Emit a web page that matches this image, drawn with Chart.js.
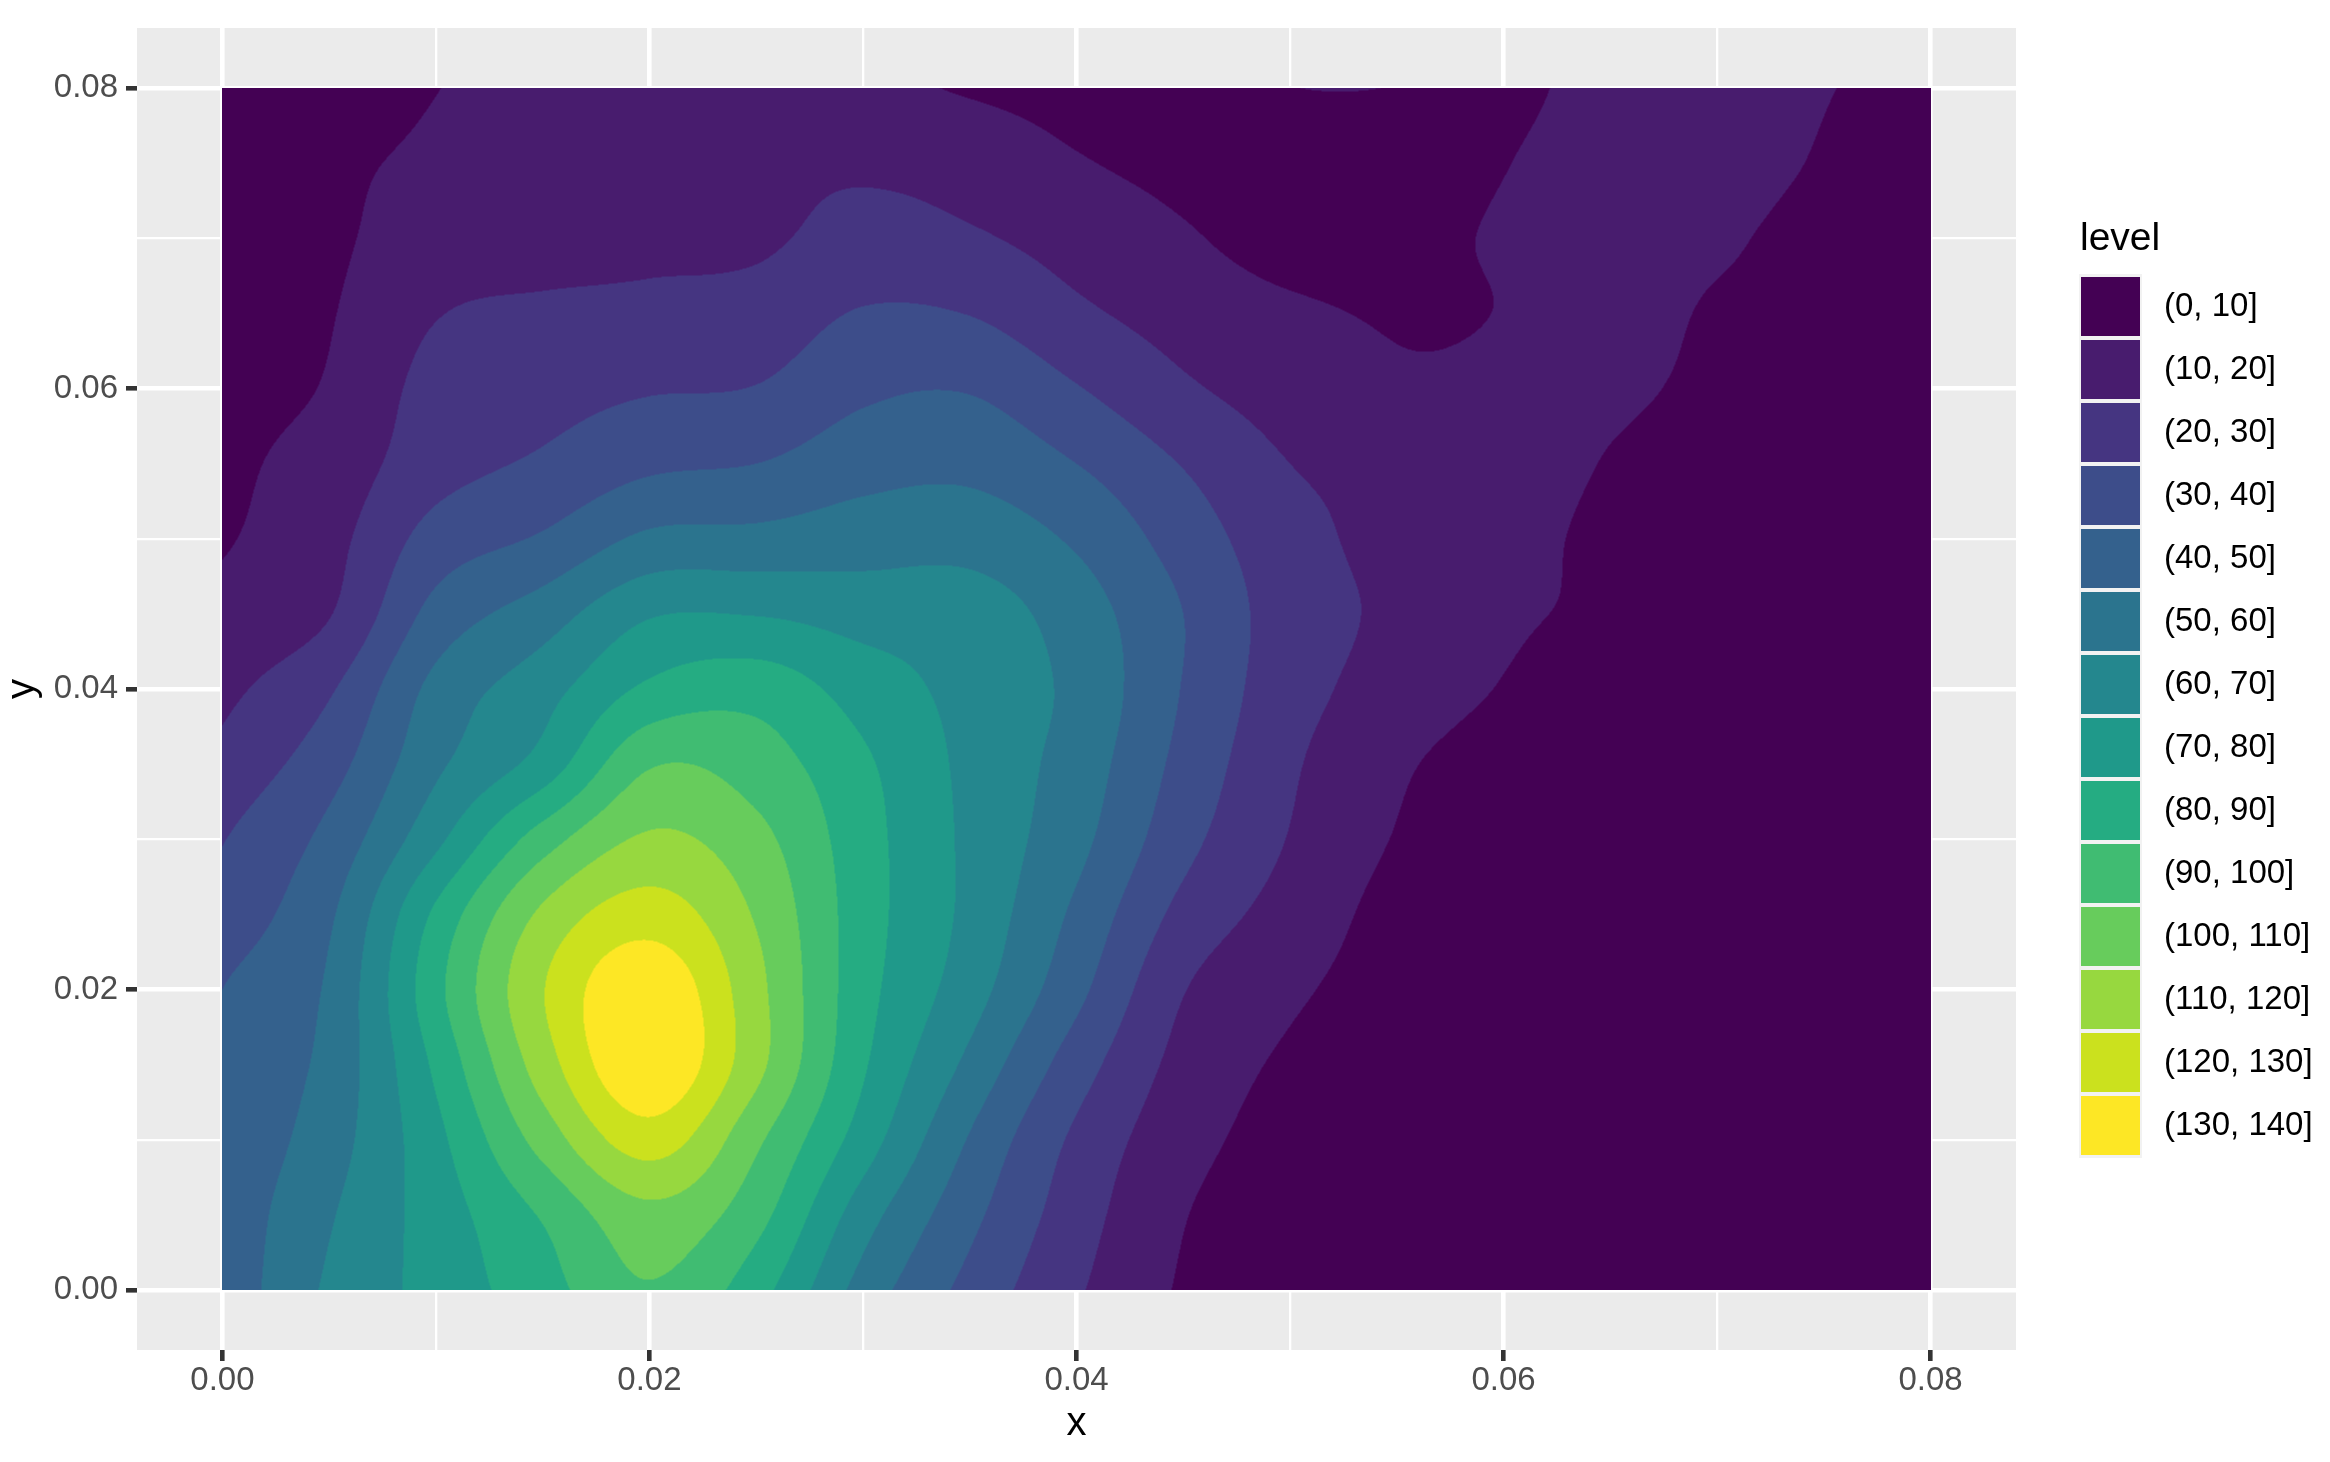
<!DOCTYPE html>
<html>
<head>
<meta charset="utf-8">
<title>level</title>
<script src="https://cdn.jsdelivr.net/npm/chart.js@4.4.1/dist/chart.umd.min.js"></script>
<style>
  html, body { margin: 0; padding: 0; background: #ffffff; }
  canvas { display: block; }
</style>
</head>
<body>
<canvas id="densityChart" width="2330" height="1462"></canvas>
<script>
// Grid of the 2d density, rows go from y = 0 upwards
const xGrid = [0, 0.005, 0.01, 0.015, 0.02, 0.025, 0.03, 0.035, 0.04, 0.045, 0.05, 0.055, 0.06, 0.065, 0.07, 0.075, 0.08];
const yGrid = [0, 0.005, 0.01, 0.015, 0.02, 0.025, 0.03, 0.035, 0.04, 0.045, 0.05, 0.055, 0.06, 0.065, 0.07, 0.075, 0.08];
const density = [
    [43, 61.6, 73.6, 86, 99, 84, 56, 36.8, 21.2, 9, 4.5, 2.5, 2, 1.5, 1.2, 1, 1],
    [43, 59, 74.7, 91, 107, 93.5, 64.6, 42.8, 24.5, 10.5, 5, 3, 2, 1.5, 1.2, 1, 1],
    [42, 55.5, 77.2, 104, 125, 102, 75.2, 49.2, 28, 13.5, 6.5, 3.5, 2.5, 2, 1.5, 1.2, 1],
    [42, 53.1, 82, 115, 139, 113, 81.3, 57.5, 34.8, 16.8, 8.5, 4.5, 3, 2.5, 2, 1.5, 1],
    [40, 51.6, 87, 119.5, 138, 113, 83.8, 64.4, 42.8, 20.5, 11.7, 6, 4, 3, 2.5, 2, 1.5],
    [34, 48.5, 82, 112, 125, 109, 84.6, 67.4, 47.9, 27, 16, 7, 4.5, 3.5, 2.5, 2, 1.5],
    [29.5, 43, 67.5, 95, 111.5, 103, 84, 67.8, 53, 33.2, 19.5, 9.5, 5.5, 4, 3, 2, 1.5],
    [23, 36, 58, 74, 99, 95, 81.7, 67.4, 55.6, 37, 21.5, 11.5, 6, 4, 3, 2, 1.5],
    [17.5, 28.8, 53, 66, 82, 86, 75.5, 66.6, 57.5, 39.5, 24, 15.8, 9.5, 6, 4, 2.5, 2],
    [13.4, 19.5, 43.5, 55, 69, 69.5, 66, 65, 55, 40, 25, 18, 11.5, 8.5, 5, 3, 2],
    [9, 16.8, 34, 41.2, 52, 53, 55.5, 56, 48.5, 35.5, 23.5, 17, 13, 8, 5, 3, 2],
    [8, 14, 26, 31.5, 38, 40, 46, 47.3, 40, 29.5, 20, 17, 14, 9.5, 6, 3.5, 2],
    [7.5, 10.8, 23.5, 26.4, 29.2, 30.4, 38, 39.3, 30.6, 21.5, 15.7, 11.5, 11.5, 11.5, 8, 5, 3],
    [7, 9.5, 19.5, 21.8, 22.4, 24, 30.7, 29.7, 21.9, 16, 11.5, 9.4, 10.2, 13, 9, 6, 4],
    [6, 8.6, 14.5, 16, 18, 18.5, 23.3, 21.2, 16.1, 11, 7, 8.5, 10.5, 12, 11.5, 6, 4],
    [5, 8.3, 11.7, 15, 17, 18, 18.5, 16, 10.7, 8, 7, 8, 9.8, 13, 14.5, 9, 5],
    [4, 6, 9.8, 14, 16, 16, 13, 9, 7, 7.5, 9.9, 9.9, 8.5, 12.5, 14, 10.5, 6]
];

// Fill levels
const levelBreaks = [0, 10, 20, 30, 40, 50, 60, 70, 80, 90, 100, 110, 120, 130, 140];
const levelLabels = ['(0, 10]', '(10, 20]', '(20, 30]', '(30, 40]', '(40, 50]', '(50, 60]', '(60, 70]',
    '(70, 80]', '(80, 90]', '(90, 100]', '(100, 110]', '(110, 120]', '(120, 130]', '(130, 140]'];
const levelColors = ['#440154', '#481C6E', '#453581', '#3D4D8A', '#34618D', '#2B748E', '#24878E',
    '#1F998A', '#25AC82', '#40BC72', '#67CC5C', '#97D83F', '#CBE11E', '#FDE725'];

// Axis ticks
const majorTicks = [0, 0.02, 0.04, 0.06, 0.08];
const minorTicks = [0.01, 0.03, 0.05, 0.07];

const FONT = "'Liberation Sans', Arial, Helvetica, sans-serif";

function isMajor(v) {
    return majorTicks.some(m => Math.abs(m - v) < 1e-9);
}

function hexToRgb(hex) {
    const n = parseInt(hex.slice(1), 16);
    return [(n >> 16) & 255, (n >> 8) & 255, n & 255];
}

function levelIndex(v) {
    let k = 0;
    while (k < levelColors.length - 1 && v > levelBreaks[k + 1]) k++;
    return k;
}

// Catmull-Rom
function cr(p0, p1, p2, p3, t) {
    return p1 + 0.5 * t * (p2 - p0 + t * (2 * p0 - 5 * p1 + 4 * p2 - p3 + t * (3 * (p1 - p2) + p3 - p0)));
}

// grid padded by one cell on each side (linear extrapolation)
function paddedGrid() {
    const ny = density.length, nx = density[0].length;
    const rows = [];
    for (let j = 0; j < ny; j++) {
        const r = density[j];
        rows.push([2 * r[0] - r[1], ...r, 2 * r[nx - 1] - r[nx - 2]]);
    }
    const first = rows[0].map((v, i) => 2 * v - rows[1][i]);
    const last = rows[ny - 1].map((v, i) => 2 * v - rows[ny - 2][i]);
    return [first, ...rows, last];
}

// Draws the filled density bands inside the data range
const contourFill = {
    id: 'contourFill',
    beforeDatasetsDraw(chart) {
        const ctx = chart.ctx;
        const xs = chart.scales.x, ys = chart.scales.y;
        const x0 = Math.round(xs.getPixelForValue(xGrid[0]));
        const x1 = Math.round(xs.getPixelForValue(xGrid[xGrid.length - 1]));
        const y0 = Math.round(ys.getPixelForValue(yGrid[yGrid.length - 1]));
        const y1 = Math.round(ys.getPixelForValue(yGrid[0]));
        const W = x1 - x0, H = y1 - y0;
        const P = paddedGrid();
        const nxp = P[0].length;
        const dx = xGrid[1] - xGrid[0], dy = yGrid[1] - yGrid[0];
        const nx = xGrid.length, ny = yGrid.length;

        // column lookup
        const colI = new Int32Array(W + 1), colT = new Float32Array(W + 1);
        for (let c = 0; c <= W; c++) {
            let u = (xs.getValueForPixel(x0 + c) - xGrid[0]) / dx;
            u = Math.min(Math.max(u, 0), nx - 1.000001);
            colI[c] = Math.floor(u);
            colT[c] = u - colI[c];
        }
        const bands = new Uint8Array((W + 1) * (H + 1));
        const tmp = new Float64Array(nxp);
        for (let r = 0; r <= H; r++) {
            let v = (ys.getValueForPixel(y0 + r) - yGrid[0]) / dy;
            v = Math.min(Math.max(v, 0), ny - 1.000001);
            const j = Math.floor(v), s = v - j;
            for (let i = 0; i < nxp; i++) {
                tmp[i] = cr(P[j][i], P[j + 1][i], P[j + 2][i], P[j + 3][i], s);
            }
            for (let c = 0; c <= W; c++) {
                const i = colI[c];
                const val = cr(tmp[i], tmp[i + 1], tmp[i + 2], tmp[i + 3], colT[c]);
                bands[r * (W + 1) + c] = levelIndex(val);
            }
        }
        const rgb = levelColors.map(hexToRgb);
        const img = ctx.createImageData(W, H);
        const d = img.data;
        for (let r = 0; r < H; r++) {
            for (let c = 0; c < W; c++) {
                const a = bands[r * (W + 1) + c], b = bands[r * (W + 1) + c + 1];
                const e = bands[(r + 1) * (W + 1) + c], f = bands[(r + 1) * (W + 1) + c + 1];
                const o = (r * W + c) * 4;
                if (a === b && a === e && a === f) {
                    d[o] = rgb[a][0]; d[o + 1] = rgb[a][1]; d[o + 2] = rgb[a][2];
                } else {
                    for (let k = 0; k < 3; k++) {
                        d[o + k] = (rgb[a][k] + rgb[b][k] + rgb[e][k] + rgb[f][k]) / 4;
                    }
                }
                d[o + 3] = 255;
            }
        }
        ctx.putImageData(img, x0, y0);
    }
};

// Grey panel behind the grid
const panelBackground = {
    id: 'panelBackground',
    beforeDraw(chart) {
        const {ctx, chartArea} = chart;
        ctx.save();
        ctx.fillStyle = '#EBEBEB';
        ctx.fillRect(chartArea.left, chartArea.top, chartArea.right - chartArea.left, chartArea.bottom - chartArea.top);
        ctx.restore();
    }
};

// Legend on the right
const levelLegend = {
    id: 'levelLegend',
    afterDraw(chart) {
        const ctx = chart.ctx;
        const left = 2081, top = 277, size = 59, step = 63;
        ctx.save();
        ctx.fillStyle = '#000000';
        ctx.font = '39px ' + FONT;
        ctx.textAlign = 'left';
        ctx.textBaseline = 'alphabetic';
        ctx.fillText('level', 2080, 250);

        ctx.fillStyle = '#F2F2F2';
        ctx.fillRect(left - 2, top - 3, size + 4, step * (levelLabels.length - 1) + size + 6);
        ctx.font = '33px ' + FONT;
        ctx.textBaseline = 'middle';
        levelLabels.forEach((lab, i) => {
            const y = top + i * step;
            ctx.fillStyle = levelColors[i];
            ctx.fillRect(left, y, size, size);
            ctx.fillStyle = '#000000';
            ctx.fillText(lab, 2164, y + size / 2);
        });
        ctx.restore();
    }
};

function axisOptions(isX) {
    return {
        type: 'linear',
        position: isX ? 'bottom' : 'left',
        min: -0.004,
        max: 0.084,
        afterBuildTicks(scale) {
            scale.ticks = majorTicks.concat(minorTicks).sort((a, b) => a - b).map(v => ({value: v}));
        },
        afterFit(scale) {
            if (isX) scale.height = 112;
            else scale.width = 137;
        },
        border: {display: false},
        grid: {
            color: '#FFFFFF',
            lineWidth: c => (c.tick && isMajor(c.tick.value)) ? 4.6 : 2.3,
            drawTicks: true,
            tickLength: 11,
            tickWidth: 4.6,
            tickColor: c => (c.tick && isMajor(c.tick.value)) ? '#333333' : 'rgba(0,0,0,0)'
        },
        ticks: {
            autoSkip: false,
            maxRotation: 0,
            minRotation: 0,
            padding: isX ? 0 : 8,
            color: '#4D4D4D',
            font: {family: FONT, size: 33},
            callback: v => isMajor(v) ? v.toFixed(2) : ''
        },
        title: {
            display: true,
            text: isX ? 'x' : 'y',
            color: '#000000',
            font: {family: FONT, size: 40, lineHeight: 1.15},
            padding: isX ? {top: 0, bottom: 15.5} : {top: 0, bottom: 0}
        }
    };
}

const chart = new Chart(document.getElementById('densityChart'), {
    type: 'scatter',
    data: {datasets: []},
    options: {
        responsive: false,
        devicePixelRatio: 1,
        animation: false,
        layout: {padding: {top: 28, right: 314, bottom: 0, left: 0}},
        plugins: {
            legend: {display: false},
            tooltip: {enabled: false}
        },
        scales: {
            x: axisOptions(true),
            y: axisOptions(false)
        }
    },
    plugins: [panelBackground, contourFill, levelLegend]
});
</script>
</body>
</html>
